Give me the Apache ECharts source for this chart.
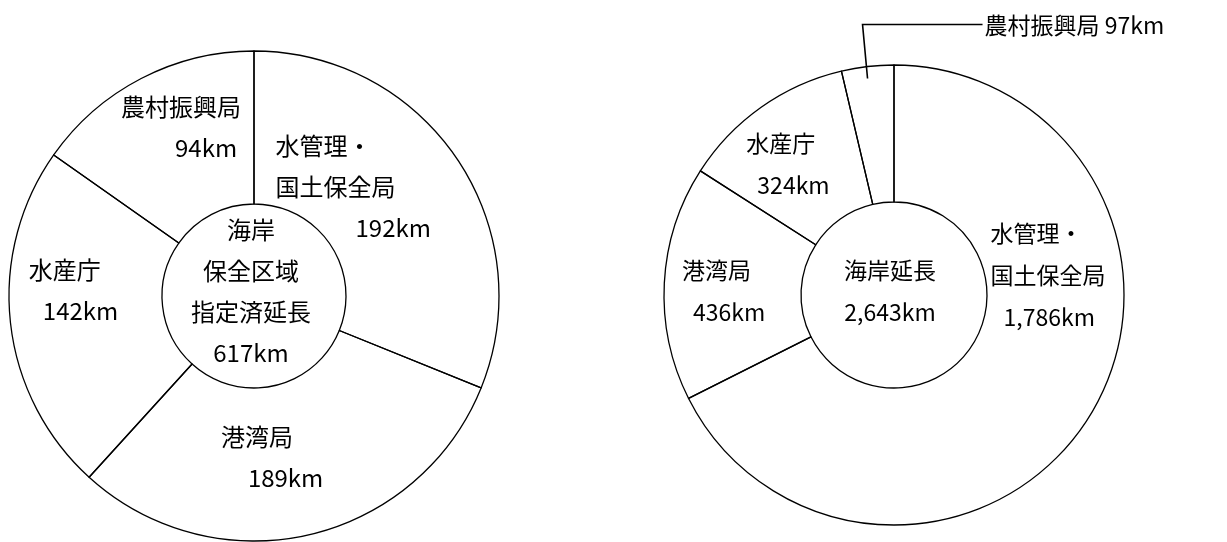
<!DOCTYPE html>
<html><head><meta charset="utf-8">
<script src="https://cdn.jsdelivr.net/npm/echarts@6/dist/echarts.min.js"></script>
<style>html,body{margin:0;padding:0;background:#fff}#c{width:1227px;height:542px}</style>
</head><body><div id="c"></div>
<script>
// ---- data ----
const categories = ['水管理・国土保全局', '港湾局', '水産庁', '農村振興局'];
const designatedKm = [192, 189, 142, 94];     // 海岸保全区域指定済延長
const coastlineKm = [1786, 436, 324, 97];     // 海岸延長
const centerTitles = ['海岸\n保全区域\n指定済延長', '海岸延長'];

// ---- styling ----
const FONT = '"Noto Sans CJK JP", "Noto Sans CJK SC", sans-serif';
const sum = a => a.reduce((s, v) => s + v, 0);
const fmt = v => v.toLocaleString('en-US') + 'km';

const leftLabelStyle = [
  {indent: 80, dx: -43, dy: -13},
  {indent: 27, dx: -20, dy: -6},
  {indent: 14, dx: -10, dy: -24},
  {indent: 54, dx: 6, dy: -16}
];
const rightLabelStyle = [
  {indent: 13, dx: 14, dy: -106},
  {indent: 11, dx: -6, dy: 5},
  {indent: 11, dx: -11, dy: 4},
  null
];

function ringSeries(values, center, radius, styles, fontSize, lineH) {
  const txt = {fontFamily: FONT, fontSize: fontSize, lineHeight: lineH, color: '#000'};
  const data = values.map((v, i) => {
    const st = styles[i];
    const item = {name: categories[i], value: v};
    if (st) {
      item.label = {
        position: 'inside',
        rich: {
          n: Object.assign({align: 'left'}, txt),
          v: Object.assign({align: 'left', padding: [0, 0, 0, st.indent]}, txt)
        }
      };
    } else {
      item.label = {position: 'outside', fontFamily: FONT, fontSize: fontSize, color: '#000'};
      item.labelLine = {show: true, lineStyle: {color: '#000', width: 1.6}};
    }
    return item;
  });
  return {
    type: 'pie', center: center, radius: radius, silent: true,
    startAngle: 90, clockwise: true, avoidLabelOverlap: false,
    itemStyle: {color: 'rgba(255,255,255,0)', borderColor: '#000', borderWidth: 1.3},
    label: {
      show: true, color: '#000', fontFamily: FONT, fontSize: fontSize,
      formatter: p => {
        if (styles[p.dataIndex]) {
          const lines = p.name.replace('・', '・\n').split('\n');
          return lines.map(l => '{n|' + l + '}').join('\n') + '\n{v|' + fmt(p.value) + '}';
        }
        return p.name + ' ' + fmt(p.value);
      }
    },
    labelLine: {show: false},
    labelLayout: params => {
      const st = styles[params.dataIndex];
      if (st) return {dx: st.dx, dy: st.dy};
      const p = params.labelLinePoints ? params.labelLinePoints[0] : [0, 0];
      return {
        x: p[0] + 117, y: p[1] - 41, align: 'left', verticalAlign: 'middle',
        labelLinePoints: [[p[0], p[1] + 12], [p[0] - 5, p[1] - 42], [p[0] + 115, p[1] - 42]]
      };
    },
    data: data
  };
}

function centerSeries(values, center, r, title, fontSize, lineH, off) {
  return {
    type: 'pie', center: center, radius: [0, r], silent: true, z: 1,
    itemStyle: {color: '#fff', borderWidth: 0},
    label: {
      show: true, position: 'center', color: '#000', fontFamily: FONT,
      fontSize: fontSize, lineHeight: lineH, align: 'center',
      formatter: p => title + '\n' + fmt(p.value)
    },
    labelLayout: () => ({dx: off[0], dy: off[1]}),
    data: [{name: title, value: sum(values)}]
  };
}

const chart = echarts.init(document.getElementById('c'), null, {renderer: 'canvas'});
chart.setOption({
  backgroundColor: '#fff',
  animation: false,
  series: [
    centerSeries(designatedKm, [254, 296], 90, centerTitles[0], 24, 41, [-3, -5]),
    ringSeries(designatedKm, [254, 296], [92, 245], leftLabelStyle, 24, 41),
    centerSeries(coastlineKm, [894, 295], 91, centerTitles[1], 23, 42, [-4, -4]),
    ringSeries(coastlineKm, [894, 295], [93, 230], rightLabelStyle, 23, 42)
  ]
});
</script>
</body></html>
